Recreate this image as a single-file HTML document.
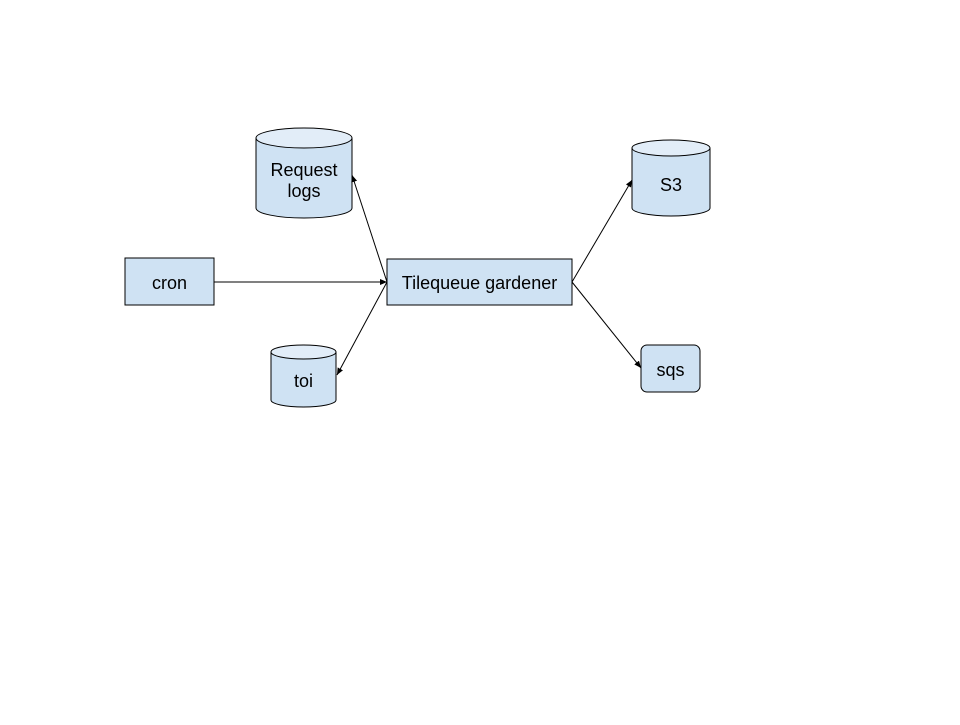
<!DOCTYPE html>
<html><head><style>body{margin:0;background:#fff}</style></head><body>
<svg width="960" height="720" xmlns="http://www.w3.org/2000/svg" font-family="Liberation Sans, sans-serif" font-size="18">
<defs><marker id="a" markerWidth="8" markerHeight="8" refX="7" refY="4" orient="auto" markerUnits="userSpaceOnUse"><path d="M0,1 L7,4 L0,7 Z" fill="#000"/></marker></defs>
<g fill="#cfe2f3" stroke="#000" stroke-width="1">
<path d="M256,138 L256,208 A48,10 0 0 0 352,208 L352,138"/>
<ellipse cx="304" cy="138" rx="48" ry="10" fill="#e2edf8"/>
<path d="M271,352 L271,400 A32.5,7 0 0 0 336,400 L336,352"/>
<ellipse cx="303.5" cy="352" rx="32.5" ry="7" fill="#e2edf8"/>
<path d="M632,148 L632,208 A39,8 0 0 0 710,208 L710,148"/>
<ellipse cx="671" cy="148" rx="39" ry="8" fill="#e2edf8"/>
<rect x="641" y="345" width="59" height="47" rx="6"/>
<rect x="125" y="258" width="89" height="47"/>
<rect x="387" y="259" width="185" height="46"/>
</g>
<g stroke="#000" stroke-width="1" fill="none" marker-end="url(#a)">
<line x1="214" y1="282" x2="387" y2="282"/>
<line x1="387" y1="282" x2="352" y2="175"/>
<line x1="387" y1="282" x2="337" y2="375"/>
<line x1="572" y1="282" x2="632" y2="180"/>
<line x1="572" y1="282" x2="641" y2="368"/>
</g>
<g text-anchor="middle" fill="#000">
<text x="304" y="176">Request</text><text x="304" y="197">logs</text>
<text x="303.5" y="387">toi</text>
<text x="671" y="191">S3</text>
<text x="670.5" y="376">sqs</text>
<text x="169.5" y="289">cron</text>
<text x="479.5" y="289">Tilequeue gardener</text>
</g>
</svg>
</body></html>
